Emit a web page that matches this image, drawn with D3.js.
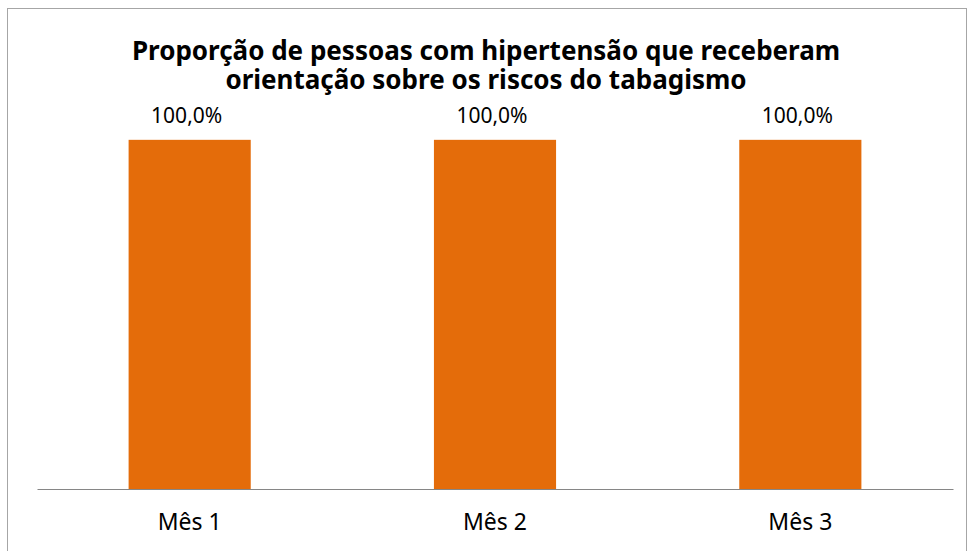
<!DOCTYPE html>
<html>
<head>
<meta charset="utf-8">
<script src="https://cdn.jsdelivr.net/npm/d3@7"></script>
<style>
  body { margin: 0; background: #fff; }
  text { font-family: "Noto Sans", sans-serif; }
</style>
</head>
<body>
<div id="chart"></div>
<script>
// data
var categories = ["Mês 1", "Mês 2", "Mês 3"];
var values = [1.0, 1.0, 1.0];
var titleLines = ["Proporção de pessoas com hipertensão que receberam",
                  "orientação sobre os riscos do tabagismo"];

var W = 970, H = 551;
var margin = {top: 70, right: 17, bottom: 62, left: 37},
    width = W - margin.left - margin.right,
    height = H - margin.top - margin.bottom;

var svg = d3.select("#chart")
  .append("svg")
  .attr("width", W)
  .attr("height", H);

// chart border
svg.append("rect")
  .attr("x", 7.5)
  .attr("y", 8.5)
  .attr("width", 959)
  .attr("height", 560)
  .attr("fill", "none")
  .attr("stroke", "#a6a6a6")
  .attr("stroke-width", 1);

var g = svg.append("g")
  .attr("transform", "translate(" + margin.left + "," + margin.top + ")");

var x = d3.scaleBand()
  .domain(categories)
  .range([0, width])
  .paddingInner(0.6)
  .paddingOuter(0.3);

var y = d3.scaleLinear()
  .domain([0, 1.2])
  .range([height, 0]);

// bars
g.selectAll(".bar")
  .data(values)
  .enter()
  .append("rect")
  .attr("class", "bar")
  .attr("x", function(d, i) { return x(categories[i]); })
  .attr("y", function(d) { return y(d); })
  .attr("width", x.bandwidth())
  .attr("height", function(d) { return height - y(d); })
  .attr("fill", "#e46c0a");

// data labels
g.selectAll(".lbl")
  .data(values)
  .enter()
  .append("text")
  .attr("class", "lbl")
  .attr("text-anchor", "middle")
  .attr("font-size", "21px")
  .attr("fill", "#000")
  .attr("x", function(d, i) { return x(categories[i]) + x.bandwidth() / 2 - 3; })
  .attr("y", function(d) { return y(d) - 17; })
  .text(function(d) { return d3.format(".1f")(d * 100).replace(".", ",") + "%"; });

// x axis
var xAxis = g.append("g")
  .attr("transform", "translate(0," + height + ")")
  .call(d3.axisBottom(x).tickSize(0).tickPadding(25));
xAxis.select(".domain").attr("stroke", "#868686");
xAxis.selectAll("text")
  .attr("font-size", "23px")
  .attr("font-family", "Noto Sans, sans-serif")
  .attr("fill", "#000");

// title
svg.selectAll(".title")
  .data(titleLines)
  .enter()
  .append("text")
  .attr("class", "title")
  .attr("text-anchor", "middle")
  .attr("font-size", "26px")
  .attr("font-weight", "bold")
  .attr("fill", "#000")
  .attr("x", 486)
  .attr("y", function(d, i) { return 60 + i * 29; })
  .text(function(d) { return d; });
</script>
</body>
</html>
